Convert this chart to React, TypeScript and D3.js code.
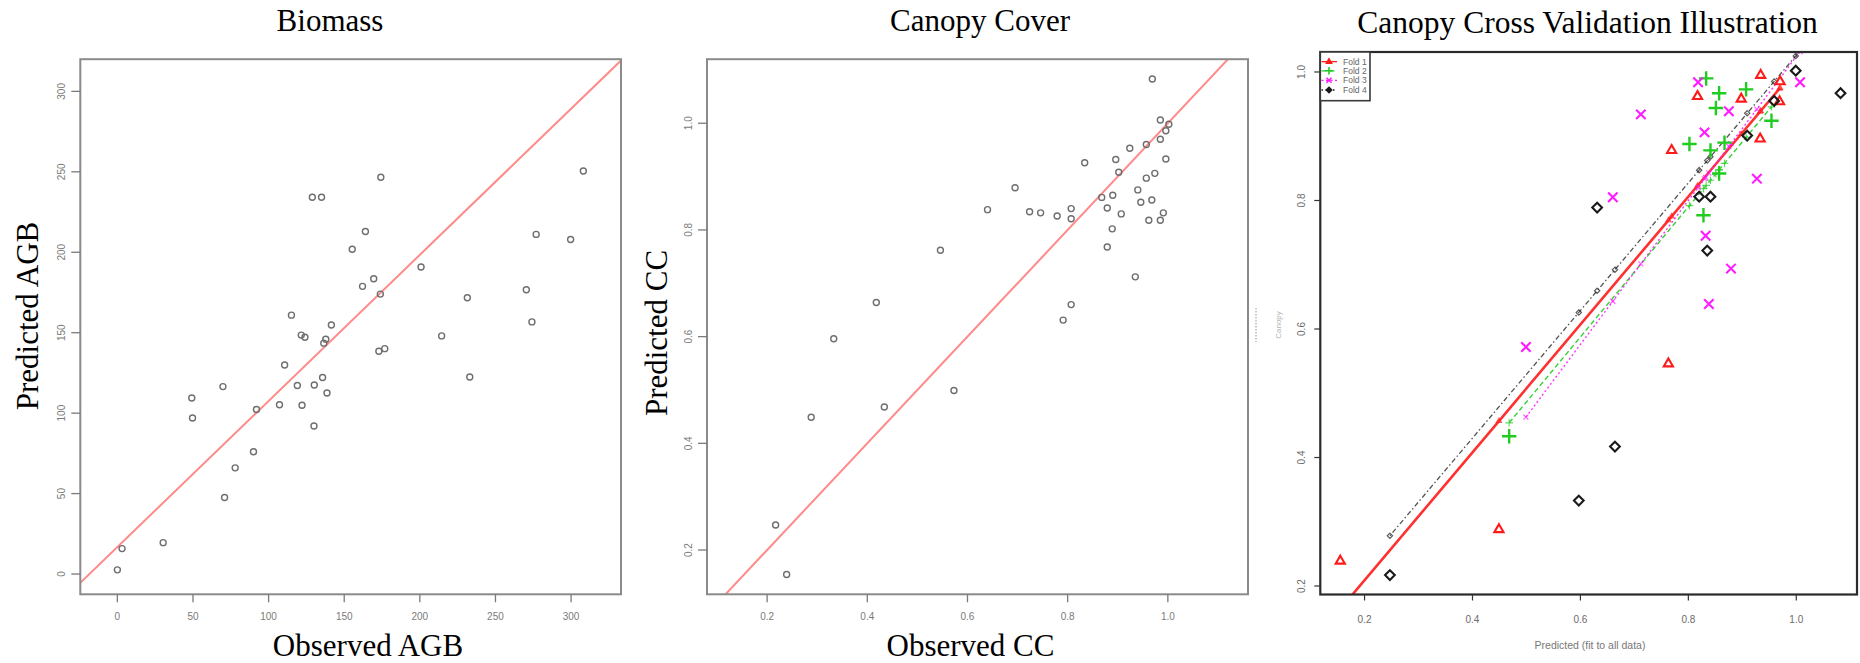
import React from 'react';
import * as d3 from 'd3';

// ---------- Data ----------
const agbObserved = [0, 3.1, 30.3, 49.2, 49.7, 69.8, 70.9, 77.9, 90, 92, 107.2, 110.6, 115.1, 119, 121.6, 124, 122.1, 128.9, 135, 130.2, 130, 135.7, 138.6, 136.5, 137.8, 141.5, 155.3, 162.1, 164, 169.5, 174.2, 173.9, 172.9, 176.8, 200.8, 214.4, 231.4, 233, 270.4, 274.1, 276.9, 299.7, 308.1];
const agbPredicted = [2.6, 15.8, 19.5, 109.4, 97, 116.5, 47.6, 66, 76, 102.3, 105.2, 129.9, 160.9, 117.2, 148.5, 147.2, 104.9, 234.2, 234.2, 117.5, 92, 122.2, 112.5, 143.5, 145.9, 154.8, 201.9, 178.8, 212.9, 183.5, 246.6, 174, 138.5, 140.1, 190.8, 148, 171.7, 122.5, 176.7, 156.7, 211.1, 207.9, 250.5];
const agbTicks = [0, 50, 100, 150, 200, 250, 300];
const agbFitIntercept = 16.8;
const agbFitSlope = 0.908;

const ccObserved = [0.217, 0.239, 0.288, 0.333, 0.418, 0.434, 0.546, 0.573, 0.640, 0.695, 0.724, 0.746, 0.779, 0.791, 0.807, 0.807, 0.807, 0.834, 0.868, 0.879, 0.879, 0.889, 0.890, 0.896, 0.902, 0.907, 0.924, 0.935, 0.940, 0.946, 0.957, 0.957, 0.962, 0.968, 0.969, 0.974, 0.985, 0.985, 0.985, 0.991, 0.996, 0.996, 1.002];
const ccPredicted = [0.247, 0.154, 0.449, 0.596, 0.664, 0.468, 0.762, 0.499, 0.838, 0.879, 0.834, 0.832, 0.826, 0.631, 0.660, 0.840, 0.821, 0.926, 0.861, 0.841, 0.768, 0.802, 0.865, 0.932, 0.908, 0.830, 0.953, 0.712, 0.875, 0.852, 0.897, 0.960, 0.818, 0.856, 1.083, 0.906, 1.006, 0.970, 0.818, 0.832, 0.986, 0.933, 0.998];
const ccTicks = [0.2, 0.4, 0.6, 0.8, 1.0];

const foldNames = ['Fold 1', 'Fold 2', 'Fold 3', 'Fold 4'];
const fold1X = [0.155, 0.449, 0.763, 0.769, 0.817, 0.898, 0.933, 0.934, 0.970, 0.969];
const fold1Y = [0.239, 0.288, 0.546, 0.878, 0.962, 0.958, 0.896, 0.995, 0.985, 0.954];
const fold2X = [0.468, 0.833, 0.857, 0.907, 0.851, 0.954, 0.802, 0.841, 0.867, 0.828, 0.857];
const fold2Y = [0.433, 0.990, 0.967, 0.973, 0.944, 0.924, 0.888, 0.878, 0.890, 0.777, 0.842];
const fold3X = [0.499, 0.660, 0.712, 0.818, 0.875, 0.830, 0.927, 1.007, 0.832, 0.879, 0.838];
const fold3Y = [0.572, 0.805, 0.934, 0.984, 0.939, 0.906, 0.834, 0.984, 0.745, 0.694, 0.639];
const fold4X = [0.247, 0.597, 0.664, 0.631, 0.820, 0.841, 0.835, 0.909, 0.959, 0.999, 1.082];
const fold4Y = [0.217, 0.333, 0.417, 0.789, 0.806, 0.806, 0.722, 0.901, 0.955, 1.002, 0.967];
const foldIntercepts = [0.010, -0.0196, -0.096, 0.033];
const foldSlopes = [0.995, 1.012, 1.12, 0.993];

// ---------- Styles ----------
const foldColors = ['#ff1a1a', '#1fcc1f', '#ff1aff', '#1a1a1a'];
const foldDash = [null, '5,3', '2,2.5', '1.5,2.5,5,2.5'];
const foldWidth = [2.6, 1.4, 1.4, 1.3];
const foldSymbols = [d3.symbolTriangle2, d3.symbolPlus, d3.symbolTimes, d3.symbolDiamond2];
const foldSymbolSize = [60, 70, 60, 60];
const SERIF = '"Liberation Serif", "Times New Roman", Times, serif';
const SANS = '"Liberation Sans", Arial, Helvetica, sans-serif';

type Box = { left: number; right: number; top: number; bottom: number };

function Scatter(props: {
  id: string; box: Box; xDom: [number, number]; yDom: [number, number];
  xTicks: number[]; yTicks: number[]; fmt: (v: number) => string;
  xs: number[]; ys: number[]; intercept: number; slope: number;
  title: string; titleX: number; xLabel: string; xLabelX: number;
  yLabel: string; yLabelX: number; yLabelY: number;
}) {
  const { box } = props;
  const x = d3.scaleLinear().domain(props.xDom).range([box.left, box.right]);
  const y = d3.scaleLinear().domain(props.yDom).range([box.bottom, box.top]);
  const line = d3.line<number>().x(v => x(v)).y(v => y(props.intercept + props.slope * v));
  const tickColor = '#7a7a7a';
  return (
    <g>
      <defs>
        <clipPath id={props.id}>
          <rect x={box.left} y={box.top} width={box.right - box.left} height={box.bottom - box.top} />
        </clipPath>
      </defs>
      <text x={props.titleX} y={31} textAnchor="middle" fontFamily={SERIF} fontSize={31} fill="#000">{props.title}</text>
      <path d={line(props.xDom) || ''} stroke="#ff8a8a" strokeWidth={2} fill="none" clipPath={`url(#${props.id})`} />
      {props.xs.map((v, i) => (
        <circle key={i} cx={x(v)} cy={y(props.ys[i])} r={3} fill="none" stroke="#6e6e6e" strokeWidth={1.4} />
      ))}
      <rect x={box.left} y={box.top} width={box.right - box.left} height={box.bottom - box.top} fill="none" stroke="#8a8a8a" strokeWidth={2} />
      {props.xTicks.map(t => (
        <g key={'x' + t}>
          <line x1={x(t)} x2={x(t)} y1={box.bottom} y2={box.bottom + 8} stroke={tickColor} strokeWidth={1.3} />
          <text x={x(t)} y={box.bottom + 26} textAnchor="middle" fontFamily={SANS} fontSize={10} fill={tickColor}>{props.fmt(t)}</text>
        </g>
      ))}
      {props.yTicks.map(t => (
        <g key={'y' + t}>
          <line x1={box.left - 9} x2={box.left} y1={y(t)} y2={y(t)} stroke={tickColor} strokeWidth={1.3} />
          <text transform={`translate(${box.left - 15.5},${y(t)}) rotate(-90)`} textAnchor="middle" fontFamily={SANS} fontSize={10} fill={tickColor}>{props.fmt(t)}</text>
        </g>
      ))}
      <text x={props.xLabelX} y={656} textAnchor="middle" fontFamily={SERIF} fontSize={31} fill="#000">{props.xLabel}</text>
      <text transform={`translate(${props.yLabelX},${props.yLabelY}) rotate(-90)`} textAnchor="middle" fontFamily={SERIF} fontSize={31} fill="#000">{props.yLabel}</text>
    </g>
  );
}

function CrossValidation() {
  const box: Box = { left: 1320.3, right: 1857, top: 52, bottom: 594.5 };
  const x = d3.scaleLinear().domain([0.118, 1.1125]).range([box.left, box.right]);
  const y = d3.scaleLinear().domain([0.1868, 1.0311]).range([box.bottom, box.top]);
  const foldsX = [fold1X, fold2X, fold3X, fold4X];
  const foldsY = [fold1Y, fold2Y, fold3Y, fold4Y];
  const tickColor = '#6a6a6a';
  const line = d3.line<[number, number]>().x(d => x(d[0])).y(d => y(d[1]));
  const legendRows = [61.7, 70.8, 80.3, 90];
  return (
    <g>
      <defs>
        <clipPath id="cvclip">
          <rect x={box.left} y={box.top} width={box.right - box.left} height={box.bottom - box.top} />
        </clipPath>
      </defs>
      <text x={1587.6} y={33} textAnchor="middle" fontFamily={SERIF} fontSize={31.5} fill="#000">Canopy Cross Validation Illustration</text>
      <g clipPath="url(#cvclip)">
        {foldsX.map((xs, f) => {
          const sorted = [...xs].sort((a, b) => a - b);
          const pts = sorted.map(v => [v, foldIntercepts[f] + foldSlopes[f] * v] as [number, number]);
          const sym = d3.symbol().type(foldSymbols[f]).size(foldSymbolSize[f] * 0.3)();
          return (
            <g key={'l' + f}>
              <path d={line(pts) || ''} stroke={foldColors[f]} strokeWidth={foldWidth[f]} fill="none" strokeDasharray={foldDash[f] || undefined} opacity={f === 3 ? 0.75 : 0.9} />
              {pts.map((p, i) => (
                <path key={i} d={sym || ''} transform={`translate(${x(p[0])},${y(p[1])})`} stroke={foldColors[f]} strokeWidth={1.2} fill="none" opacity={0.7} />
              ))}
            </g>
          );
        })}
        {foldsX.map((xs, f) => {
          const sym = d3.symbol().type(foldSymbols[f]).size(foldSymbolSize[f])();
          return (
            <g key={'p' + f}>
              {xs.map((v, i) => (
                <path key={i} d={sym || ''} transform={`translate(${x(v)},${y(foldsY[f][i])})`} stroke={foldColors[f]} strokeWidth={f === 1 ? 2.4 : 2.1} fill="none" />
              ))}
            </g>
          );
        })}
      </g>
      <rect x={box.left} y={box.top} width={box.right - box.left} height={box.bottom - box.top} fill="none" stroke="#2a2a2a" strokeWidth={2.2} />
      {ccTicks.map(t => (
        <g key={'x' + t}>
          <line x1={x(t)} x2={x(t)} y1={box.bottom} y2={box.bottom + 6} stroke="#333" strokeWidth={1.2} />
          <text x={x(t)} y={box.bottom + 28} textAnchor="middle" fontFamily={SANS} fontSize={10} fill={tickColor}>{t.toFixed(1)}</text>
        </g>
      ))}
      {ccTicks.map(t => (
        <g key={'y' + t}>
          <line x1={box.left - 6} x2={box.left} y1={y(t)} y2={y(t)} stroke="#333" strokeWidth={1.2} />
          <text transform={`translate(${box.left - 15.7},${y(t)}) rotate(-90)`} textAnchor="middle" fontFamily={SANS} fontSize={10} fill={tickColor}>{t.toFixed(1)}</text>
        </g>
      ))}
      <text x={1590} y={649} textAnchor="middle" fontFamily={SANS} fontSize={10.5} fill="#777">Predicted (fit to all data)</text>
      <text transform={`translate(1281,325) rotate(-90)`} textAnchor="middle" fontFamily={SANS} fontSize={8} fill="#b5b5b5">Canopy</text>
      <line x1={1256} x2={1256} y1={308} y2={342} stroke="#c8c8c8" strokeWidth={2} strokeDasharray="1.5,1.5" />
      {/* legend */}
      <rect x={1320.3} y={52} width={49.7} height={48.7} fill="#fff" stroke="#3a3a3a" strokeWidth={1.6} />
      {foldNames.map((name, f) => {
        const sym = d3.symbol().type(foldSymbols[f]).size(foldSymbolSize[f] * 0.3)();
        return (
          <g key={name}>
            <line x1={1321.5} x2={1337} y1={legendRows[f]} y2={legendRows[f]} stroke={foldColors[f]} strokeWidth={1.3} strokeDasharray={foldDash[f] || undefined} />
            <path d={sym || ''} transform={`translate(1329,${legendRows[f]})`} stroke={foldColors[f]} strokeWidth={1.6} fill={foldColors[f]} />
            <text x={1343} y={legendRows[f] + 3} fontFamily={SANS} fontSize={8.5} fill="#666">{name}</text>
          </g>
        );
      })}
    </g>
  );
}

export default function App() {
  return (
    <svg width={1860} height={663} style={{ position: 'absolute', left: 0, top: 0, background: '#fff' }}>
      <rect x={0} y={0} width={1860} height={663} fill="#fff" />
      <Scatter id="agbclip" box={{ left: 80.3, right: 621, top: 59.2, bottom: 594.3 }}
        xDom={[-24.5, 333]} yDom={[-12.6, 320]} xTicks={agbTicks} yTicks={agbTicks} fmt={v => String(v)}
        xs={agbObserved} ys={agbPredicted} intercept={agbFitIntercept} slope={agbFitSlope}
        title="Biomass" titleX={330} xLabel="Observed AGB" xLabelX={368} yLabel="Predicted AGB" yLabelX={37.5} yLabelY={316} />
      <Scatter id="ccclip" box={{ left: 707, right: 1248, top: 59.2, bottom: 594.3 }}
        xDom={[0.08, 1.16]} yDom={[0.117, 1.12]} xTicks={ccTicks} yTicks={ccTicks} fmt={v => v.toFixed(1)}
        xs={ccObserved} ys={ccPredicted} intercept={0} slope={1}
        title="Canopy Cover" titleX={980} xLabel="Observed CC" xLabelX={970.5} yLabel="Predicted CC" yLabelX={667} yLabelY={333} />
      <CrossValidation />
    </svg>
  );
}
